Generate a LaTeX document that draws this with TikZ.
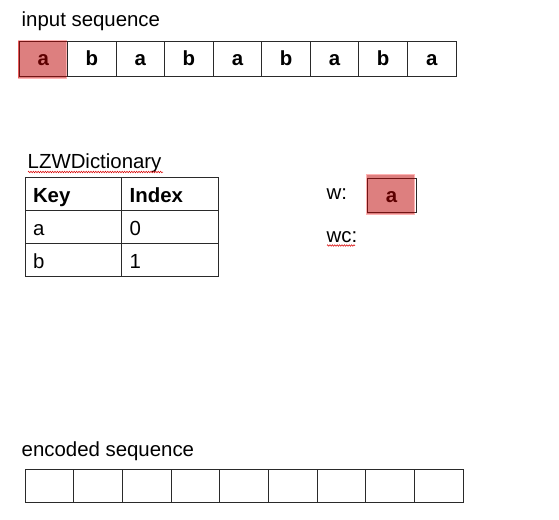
\documentclass[tikz,border=0pt]{standalone}
\usepackage{fontspec}
\setmainfont{Liberation Sans}
\usetikzlibrary{decorations.pathmorphing}
\definecolor{hlred}{HTML}{BB0000}
\definecolor{gridline}{HTML}{2A2A2A}
\begin{document}
\begin{tikzpicture}[x=1pt,y=-1pt,
  font=\fontsize{20.4}{24}\selectfont,
  label/.style={anchor=base west, inner sep=0pt, outer sep=0pt},
  seqcell/.style={draw=gridline, line width=1pt, inner sep=0pt, outer sep=0pt,
    minimum width=48.56pt, text height=24pt, text depth=10pt, anchor=north west,
    font=\fontsize{20.4}{24}\selectfont\bfseries},
  enccell/.style={draw=gridline, line width=1pt, inner sep=0pt, outer sep=0pt,
    minimum width=48.67pt, minimum height=33.4pt, anchor=north west},
  tabcell/.style={draw=gridline, line width=1pt, inner xsep=8pt, inner ysep=0pt, outer sep=0pt,
    text width=80.7pt, align=left, text height=24.5pt, text depth=8.5pt, anchor=north west},
  tabhead/.style={tabcell, font=\fontsize{20.4}{24}\selectfont\bfseries},
  hl/.style={fill=hlred, fill opacity=0.5, draw=red, draw opacity=0.3, line width=1pt,
    inner sep=0pt, outer sep=0pt, anchor=north west},
  squiggle/.style={draw=red!85!black, line width=0.5pt, decorate,
    decoration={zigzag, amplitude=0.8pt, segment length=2.4pt}}
]
\useasboundingbox (0,0) rectangle (559,519);

% input sequence
\node[label] (inlabel) at (21.7,27) {input sequence};
\foreach \c [count=\i] in {a,b,a,b,a,b,a,b,a}
  \node[seqcell] (in\i) at ({19+48.56*(\i-1)},42) {\c};
\node[hl, minimum width=47.7pt, minimum height=37.3pt] (inhl) at (18.3,41) {};

% dictionary
\node[label] (dictlabel) at (27.7,168.3) {LZWDictionary};
\coordinate (dsqA) at (28,172);
\coordinate (dsqB) at (163,172);
\draw[squiggle] (dsqA) -- (dsqB);
\node[tabhead] (k0) at (25,177.7) {Key};
\node[tabhead] (v0) at (121.7,177.7) {Index};
\node[tabcell] (k1) at (25,210.7) {a};
\node[tabcell] (v1) at (121.7,210.7) {0};
\node[tabcell] (k2) at (25,243.7) {b};
\node[tabcell] (v2) at (121.7,243.7) {1};

% w and wc
\node[label] (wlabel) at (326.7,199.3) {w:};
\node[seqcell, minimum width=49pt] (wval) at (367,178) {a};
\node[hl, minimum width=47.3pt, minimum height=39.6pt] (whl) at (366.7,174.7) {};
\node[label] (wclabel) at (326.7,242.7) {wc:};
\coordinate (wsqA) at (327,245.5);
\coordinate (wsqB) at (355,245.5);
\draw[squiggle] (wsqA) -- (wsqB);

% encoded sequence
\node[label] (enclabel) at (21.7,456) {encoded sequence};
\foreach \i in {1,...,9}
  \node[enccell] (enc\i) at ({25+48.67*(\i-1)},469.3) {};
\end{tikzpicture}
\end{document}
